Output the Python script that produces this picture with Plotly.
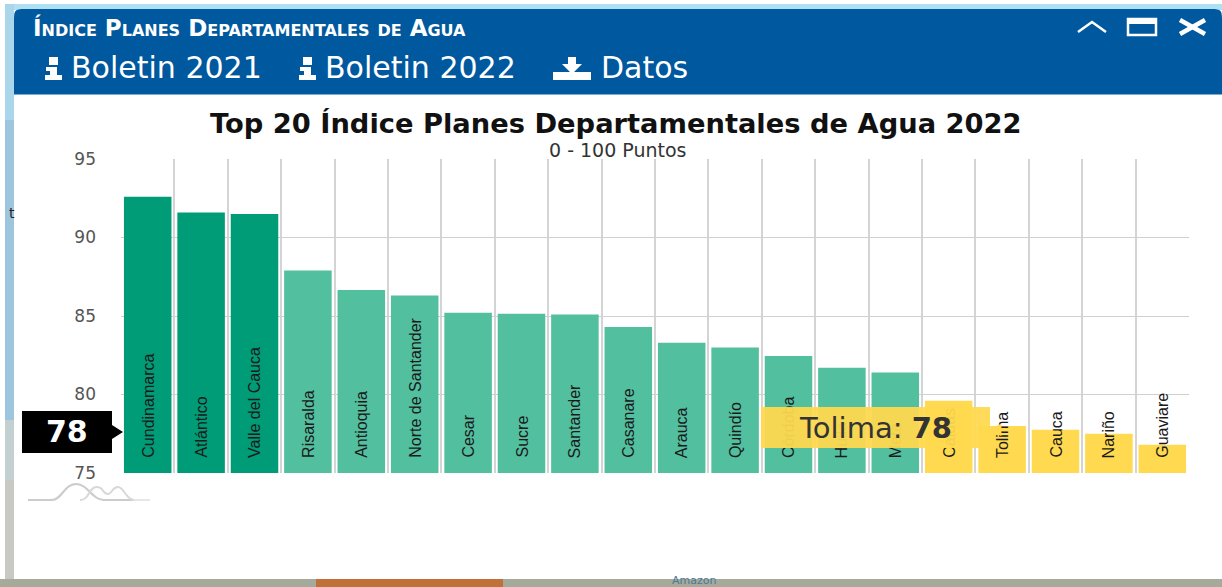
import plotly.graph_objects as go

categories = ["Cundinamarca", "Atlántico", "Valle del Cauca", "Risaralda", "Antioquia",
              "Norte de Santander", "Cesar", "Sucre", "Santander", "Casanare", "Arauca",
              "Quindío", "Córdoba", "Huila", "Meta", "Caldas", "Tolima", "Cauca", "Nariño",
              "Guaviare"]
values = [92.6, 91.6, 91.5, 87.9, 86.65, 86.3, 85.2, 85.15, 85.1, 84.3, 83.3, 83.0, 82.45,
          81.7, 81.4, 79.6, 78, 77.75, 77.5, 76.8]
dark, mid, yellow = "#009b77", "#52bf9f", "#ffd94f"
colors = [dark] * 3 + [mid] * 12 + [yellow] * 5
y_ticks = [75, 80, 85, 90, 95]
W, H = 1222, 587
L, R, T, B = 121, 1189, 159, 473


def px(x):
    return x / W


def py(y):
    return 1 - y / H


def path(d, fill=None, line=None, width=0):
    out = []
    for tok in d.split():
        if tok[0] in "MLZC":
            out.append(tok[0])
            tok = tok[1:]
            if not tok:
                continue
        xs, ys = tok.split(",")
        out.append(f"{px(float(xs)):.5f},{py(float(ys)):.5f}")
    return dict(type="path", xref="paper", yref="paper", path=" ".join(out),
                fillcolor=fill or "rgba(0,0,0,0)", line=dict(color=line or "rgba(0,0,0,0)", width=width),
                layer="below")


def rect(x0, y0, x1, y1, fill):
    return dict(type="rect", xref="paper", yref="paper", x0=px(x0), x1=px(x1), y0=py(y1), y1=py(y0),
                fillcolor=fill, line=dict(width=0), layer="below")


def rounded(x0, y0, x1, y1, r_tl, r_tr, r_br, r_bl, fill):
    d = (f"M{x0+r_tl},{y0} L{x1-r_tr},{y0} C{x1},{y0} {x1},{y0} {x1},{y0+r_tr} L{x1},{y1-r_br} "
         f"C{x1},{y1} {x1},{y1} {x1-r_br},{y1} L{x0+r_bl},{y1} C{x0},{y1} {x0},{y1} {x0},{y1-r_bl} "
         f"L{x0},{y0+r_tl} C{x0},{y0} {x0},{y0} {x0+r_tl},{y0} Z")
    return path(d, fill=fill)


def info_icon(x):
    return [rect(x + 4, 57, x + 13, 65, "#ffffff"),
            rect(x + 1, 67, x + 12, 71, "#ffffff"),
            rect(x + 5, 67, x + 12, 80, "#ffffff"),
            rect(x, 75, x + 17, 80, "#ffffff")]


shapes = [
    rect(5, 4, W, 10, "#aedff3"),
    rect(5, 4, 14, 120, "#a9d6ea"),
    rect(5, 120, 14, 420, "#9dc5dd"),
    rect(5, 420, 14, 480, "#c2d0d2"),
    rect(5, 480, 14, H, "#c8c9c5"),
    rect(0, 579, W, H, "#a6aa9a"),
    rect(316, 579, 503, H, "#c2703a"),
    rounded(14, 9, W, 579, 14, 14, 16, 16, "#ffffff"),
    rounded(14, 9, W, 94.5, 14, 14, 0, 0, "#00589e"),
    # logo curves
    path("M28,500 L50,500 C62,500 64,484 76,484 C88,484 92,500 104,500 L150,500", line="#e6e6e6", width=2),
    path("M28,500 L52,500 C62,500 64,484 76,484 C88,484 92,500 104,500 L132,500", line="#cccccc", width=2),
    path("M80,500 C90,500 88,487 97,487 C104,487 102,494 108,494 C112,494 112,487 118,487 C124,487 126,500 134,500", line="#d8d8d8", width=2),
    # black value tag
    path("M22,411 L112,411 L112,425 L123,432 L112,439 L112,453 L22,453 Z", fill="#000000"),
    # window buttons
    path("M1078,32 L1092,22 L1106,32", line="#ffffff", width=2.5),
    path("M1128,19 L1156,19 L1156,35 L1128,35 Z", line="#ffffff", width=2.5),
    rect(1127, 18, 1157, 24, "#ffffff"),
    path("M1180,20 L1205,34", line="#ffffff", width=4.5),
    path("M1205,20 L1180,34", line="#ffffff", width=4.5),
    # download icon
    path("M568,57 L576,57 L576,64 L582,64 L572,74 L562,64 L568,64 Z", fill="#ffffff"),
    rect(553, 72, 591, 80, "#ffffff"),
] + info_icon(45) + info_icon(299)


def note(x, y, text, size, color="#333333", family="DejaVu Sans", xanchor="left", **kw):
    return dict(xref="paper", yref="paper", x=px(x), y=py(y), text=text, showarrow=False,
                xanchor=xanchor, yanchor="middle", font=dict(size=size, color=color, family=family, **kw))


annotations = [
    note(7, 213, "t", 14, "#222222"),
    note(694, 580, "Amazon", 11, "#4a7898", xanchor="center"),
    note(31, 27, "<b>Índice Planes Departamentales de Agua</b>", 23, "#ffffff", variant="small-caps"),
    note(69, 68, "Boletin 2021", 30, "#ffffff"),
    note(323, 68, "Boletin 2022", 30, "#ffffff"),
    note(599, 68, "Datos", 30, "#ffffff"),
    note(616, 124, "<b>Top 20 Índice Planes Departamentales de Agua 2022</b>", 27.3, "#111111", xanchor="center"),
    note(618, 149.5, "0 - 100 Puntos", 19, "#333333", xanchor="center"),
    note(67, 431, "<b>78</b>", 30, "#ffffff", xanchor="center"),
]
for c in categories:
    annotations.append(dict(x=c, y=75, xref="x", yref="y", text=c, textangle=-90, showarrow=False,
                            xanchor="center", yanchor="bottom", yshift=13,
                            font=dict(size=16, color="#1a1a1a", family="Liberation Sans")))
annotations.append(dict(xref="paper", yref="paper", x=px(875.5), y=py(427.5),
                        text="Tolima: <b>78</b>", showarrow=False, xanchor="center", yanchor="middle",
                        width=227, height=39, bgcolor="rgba(255,217,79,0.94)", borderwidth=0,
                        font=dict(size=29, color="#333333", family="DejaVu Sans")))
annotations.append(note(987, 428, "◀", 16, "#ffd94f"))

fig = go.Figure(go.Bar(x=categories, y=values, marker=dict(color=colors, line=dict(width=0)), width=0.89))
fig.update_layout(
    width=W, height=H, margin=dict(l=0, r=0, t=0, b=0), showlegend=False,
    paper_bgcolor="#ffffff", plot_bgcolor="rgba(0,0,0,0)", shapes=shapes, annotations=annotations,
    xaxis=dict(domain=[px(L), px(R)], type="category", categoryorder="array", categoryarray=categories,
               range=[-0.5, 19.5], tickson="boundaries", showgrid=True, gridcolor="#d4d4d4", gridwidth=1.5,
               showticklabels=False, ticks="", zeroline=False, showline=False, fixedrange=True, automargin=False),
    yaxis=dict(domain=[py(B), py(T)], range=[75, 95], tickmode="array", tickvals=y_ticks,
               ticktext=[str(v) for v in y_ticks], showgrid=True, gridcolor="#d0d0d0", gridwidth=1,
               ticks="", zeroline=False, showline=False, ticklabelstandoff=24, automargin=False,
               tickfont=dict(size=17, color="#555555", family="DejaVu Sans"), fixedrange=True),
)
fig.write_html("out.html", config=dict(displayModeBar=False),
               post_script="document.body.style.margin='0';")
